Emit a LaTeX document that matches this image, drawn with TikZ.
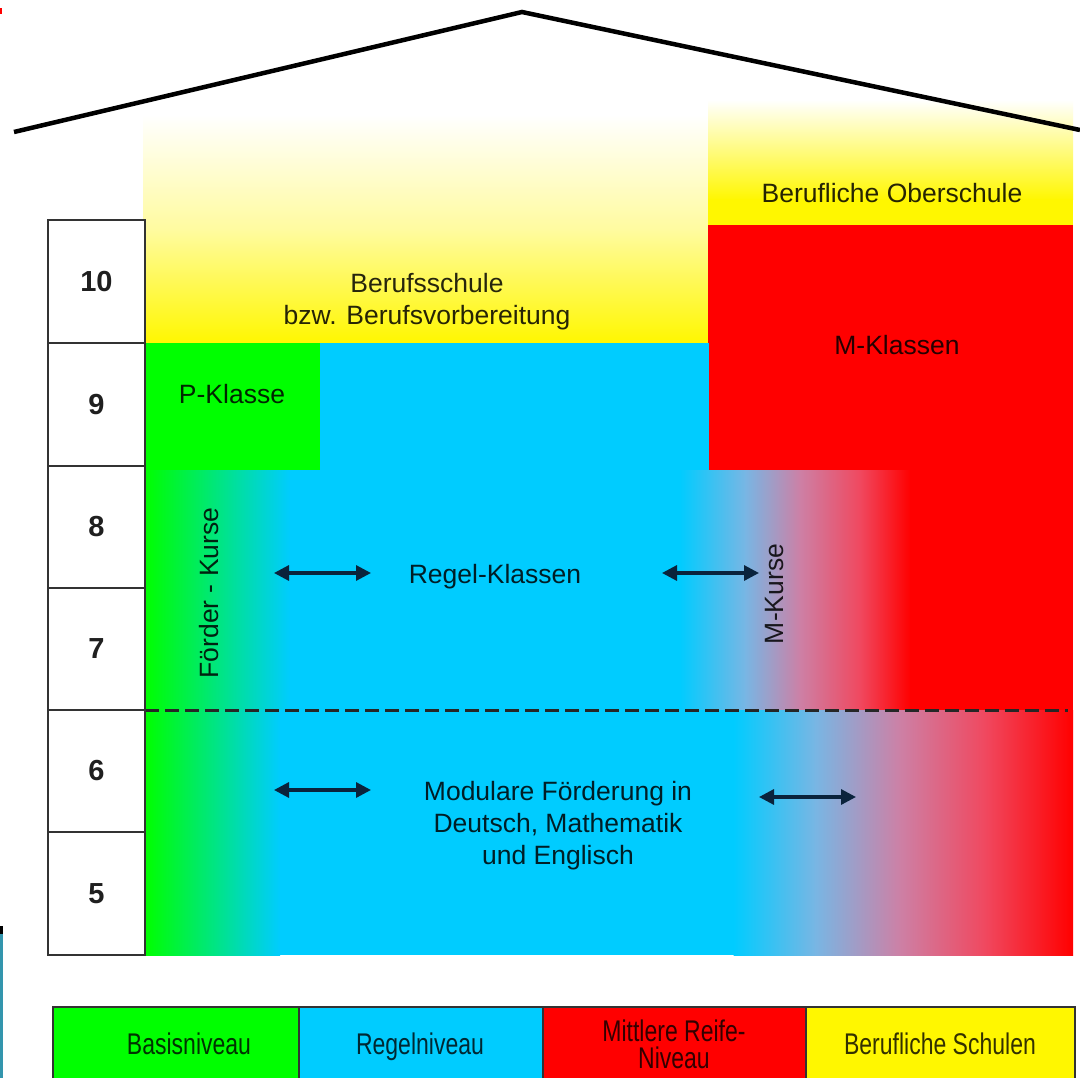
\documentclass[tikz,border=0pt]{standalone}
\usepackage{fontspec}
\setmainfont{Liberation Sans}
\usetikzlibrary{arrows.meta}
\definecolor{cgreen}{RGB}{0,255,0}
\definecolor{ccyan}{RGB}{0,204,255}
\definecolor{cred}{RGB}{255,0,0}
\definecolor{cyel}{RGB}{255,247,0}
\definecolor{cyelmid}{RGB}{255,251,160}
\definecolor{mixa}{RGB}{120,182,228}
\definecolor{mixb}{RGB}{205,128,165}
\definecolor{mixc}{RGB}{240,72,95}
\definecolor{ink}{RGB}{10,35,60}
\begin{document}
\begin{tikzpicture}[x=1pt,y=-1pt,
  lbl/.style={font=\fontsize{26.5}{32}\selectfont, text=black, text opacity=0.85, align=center, inner sep=0pt},
  gradebox/.style={draw=black!80, line width=2pt, fill=white, minimum width=97pt, minimum height=122.5pt,
    font=\fontsize{29}{30}\selectfont\bfseries, text=black!88, inner sep=0pt, outer sep=0pt},
  dblarrow/.style={{Triangle[length=15pt,width=15pt]}-{Triangle[length=15pt,width=15pt]}, line width=3.2pt, draw=ink},
  legbox/.style={draw=black!80, line width=2pt},
  legtext/.style={font=\fontsize{23}{21}\selectfont, text=black, text opacity=0.8, align=center, inner sep=0pt, yscale=1.3, transform shape}
]
\useasboundingbox (0,0) rectangle (1080,1078);
\clip (0,0) rectangle (1080,1078);
\fill[white] (0,0) rectangle (1080,1078);

% yellow areas (Berufsschule, Berufliche Oberschule)
\shade[top color=white, bottom color=cyel, middle color=cyelmid] (143,115) rectangle (710,343);
\shade[top color=white, bottom color=cyel] (708,100) rectangle (1073,200);
\fill[cyel] (708,199) rectangle (1073,226);

% M-Klassen, P-Klasse, upper Regel area
\fill[cred] (708,225) rectangle (1073,471);
\fill[cgreen] (145,343) rectangle (320,470);
\fill[ccyan] (320,343) rectangle (708.5,470);

% rows 7-8 gradient
\fill[ccyan] (145,470) rectangle (1073,710);
\shade[left color=cgreen, right color=ccyan] (145,470) rectangle (290,710);
\shade[left color=ccyan, right color=mixa] (679.5,470) rectangle (745.5,710);
\shade[left color=mixa, right color=mixb] (745,470) rectangle (800.5,710);
\shade[left color=mixb, right color=mixc] (800,470) rectangle (860.5,710);
\shade[left color=mixc, right color=cred] (860,470) rectangle (910.5,710);
\fill[cred] (910,470) rectangle (1073,710);

% rows 5-6 gradient
\fill[ccyan] (145,710) rectangle (1073,955);
\shade[left color=cgreen, right color=ccyan] (145,710) rectangle (280,955);
\shade[left color=ccyan, right color=mixa] (733.5,710) rectangle (815.5,955);
\shade[left color=mixa, right color=mixb] (815,710) rectangle (900.5,955);
\shade[left color=mixb, right color=mixc] (900,710) rectangle (985.5,955);
\shade[left color=mixc, right color=cred] (985,710) rectangle (1073,955);

% dashed separator
\coordinate (dashL) at (145,710);
\coordinate (dashR) at (1068,710);
\draw[black!85, line width=3pt, dash pattern=on 14pt off 6pt] (dashL) -- (dashR);

% grade column
\node[gradebox] (g10) at (96.5,281.5) {10};
\node[gradebox] (g9) at (96.5,404.5) {9};
\node[gradebox] (g8) at (96.5,527) {8};
\node[gradebox] (g7) at (96.5,649) {7};
\node[gradebox] (g6) at (96.5,771) {6};
\node[gradebox] (g5) at (96.5,893.5) {5};

% labels
\node[lbl] (bos) at (892,193) {Berufliche Oberschule};
\node[lbl] (bs) at (427,302) {Berufsschule\\bzw. Berufsvorbereitung};
\node[lbl] (mk) at (897,345) {M-Klassen};
\node[lbl] (pk) at (232,394) {P-Klasse};
\node[lbl] (rk) at (495,577) {Regel-Klassen};
\node[lbl, rotate=90] (fk) at (209,593) {Förder - Kurse};
\node[lbl, rotate=90] (mkurse) at (775,594) {M-Kurse};
\node[lbl] (mod) at (558,826) {Modulare Förderung in\\Deutsch, Mathematik\\und Englisch};

% arrows
\coordinate (a1l) at (274,573); \coordinate (a1r) at (371,573);
\coordinate (a2l) at (662,573); \coordinate (a2r) at (759,573);
\coordinate (a3l) at (274,790); \coordinate (a3r) at (371,790);
\coordinate (a4l) at (759,797); \coordinate (a4r) at (856,797);
\draw[dblarrow] (a1l) -- (a1r);
\draw[dblarrow] (a2l) -- (a2r);
\draw[dblarrow] (a3l) -- (a3r);
\draw[dblarrow] (a4l) -- (a4r);

% roof
\coordinate (roofL) at (14,132);
\coordinate (roofT) at (522,12);
\coordinate (roofR) at (1080,130);
\draw[black, line width=4.5pt, line join=miter] (roofL) -- (roofT) -- (roofR);

% legend
\fill[cgreen] (53,1007) rectangle (299,1090);
\fill[ccyan] (299,1007) rectangle (543,1090);
\fill[cred] (543,1007) rectangle (806,1090);
\fill[cyel] (806,1007) rectangle (1075,1090);
\draw[legbox] (53,1090) -- (53,1007) -- (1075,1007) -- (1075,1090);
\draw[legbox] (299,1007) -- (299,1090);
\draw[legbox] (543,1007) -- (543,1090);
\draw[legbox] (806,1007) -- (806,1090);
\node[legtext, anchor=base] (lb) at (189,1054) {Basisniveau};
\node[legtext, anchor=base] (lr) at (420,1054) {Regelniveau};
\node[legtext] (lm) at (674,1044) {Mittlere Reife-\\Niveau};
\node[legtext, anchor=base] (ls) at (940,1054) {Berufliche Schulen};

% scan edge artefacts
\fill[red] (0,8) rectangle (2,14);
\fill[black] (0,926) rectangle (3,934);
\fill[ccyan!60!black!80] (0,934) rectangle (3,1078);
\end{tikzpicture}
\end{document}
